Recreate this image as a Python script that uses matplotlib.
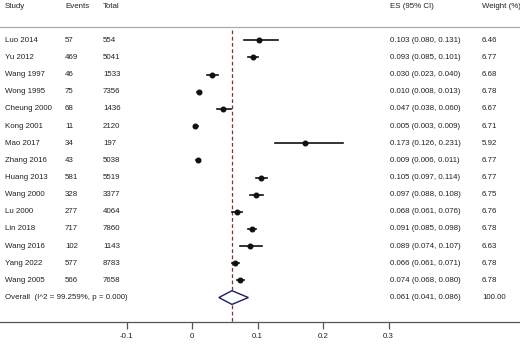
import matplotlib
matplotlib.use("Agg")
import matplotlib.pyplot as plt
import matplotlib.transforms as mtransforms

plt.rcParams['font.family'] = ['Liberation Sans', 'DejaVu Sans']

studies = ["Luo 2014", "Yu 2012", "Wang 1997", "Wong 1995", "Cheung 2000",
           "Kong 2001", "Mao 2017", "Zhang 2016", "Huang 2013", "Wang 2000",
           "Lu 2000", "Lin 2018", "Wang 2016", "Yang 2022", "Wang 2005"]
events = [57, 469, 46, 75, 68, 11, 34, 43, 581, 328, 277, 717, 102, 577, 566]
totals = [554, 5041, 1533, 7356, 1436, 2120, 197, 5038, 5519, 3377,
          4064, 7860, 1143, 8783, 7658]
es = [0.103, 0.093, 0.030, 0.010, 0.047, 0.005, 0.173, 0.009, 0.105, 0.097,
      0.068, 0.091, 0.089, 0.066, 0.074]
lo = [0.080, 0.085, 0.023, 0.008, 0.038, 0.003, 0.126, 0.006, 0.097, 0.088,
      0.061, 0.085, 0.074, 0.061, 0.068]
hi = [0.131, 0.101, 0.040, 0.013, 0.060, 0.009, 0.231, 0.011, 0.114, 0.108,
      0.076, 0.098, 0.107, 0.071, 0.080]
weights = [6.46, 6.77, 6.68, 6.78, 6.67, 6.71, 5.92, 6.77, 6.77, 6.75,
           6.76, 6.78, 6.63, 6.78, 6.78]
overall_es, overall_lo, overall_hi = 0.061, 0.041, 0.086
overall_label = "Overall  (I^2 = 99.259%, p = 0.000)"
xticks = [-0.1, 0, 0.1, 0.2, 0.3]
xticklabels = ["-0.1", "0", "0.1", "0.2", "0.3"]

W, H = 520, 347
fig = plt.figure(figsize=(W / 100, H / 100), dpi=100)
ax_bottom = 322
ax = fig.add_axes([0, (H - ax_bottom) / H, 1, ax_bottom / H])

# pixel mapping: x_px = 192 + 655*ES ; row i at y_px = 40.3 + 17.15*i
x0, sx = 192.0, 655.0
ax.set_xlim(-x0 / sx, (W - x0) / sx)
r0, sr = 40.3, 17.15
ax.set_ylim((ax_bottom - r0) / sr, -r0 / sr)

for s in ['top', 'left', 'right']:
    ax.spines[s].set_visible(False)
ax.spines['bottom'].set_color('#555555')
ax.spines['bottom'].set_linewidth(0.9)
ax.set_yticks([])
ax.set_xticks(xticks)
ax.set_xticklabels(xticklabels)
ax.tick_params(axis='x', direction='out', length=5, width=0.9, color='#555555',
               labelsize=5.7, labelcolor='#222222', pad=3)

tc = '#222222'
fs = 5.7
trans = mtransforms.blended_transform_factory(fig.transFigure, ax.transData)

def px(x):
    return x / W

header_row = (6 - r0) / sr
ax.text(px(5), header_row, "Study", transform=trans, fontsize=fs, color=tc, va='center')
ax.text(px(65), header_row, "Events", transform=trans, fontsize=fs, color=tc, va='center')
ax.text(px(103), header_row, "Total", transform=trans, fontsize=fs, color=tc, va='center')
ax.text(px(390), header_row, "ES (95% CI)", transform=trans, fontsize=fs, color=tc, va='center')
ax.text(px(482), header_row, "Weight (%)", transform=trans, fontsize=fs, color=tc, va='center')
ax.axhline((27 - r0) / sr, color='#aaaaaa', lw=0.9)

for i in range(len(studies)):
    ax.text(px(5), i, studies[i], transform=trans, fontsize=fs, color=tc, va='center')
    ax.text(px(65), i, str(events[i]), transform=trans, fontsize=fs, color=tc, va='center')
    ax.text(px(103), i, str(totals[i]), transform=trans, fontsize=fs, color=tc, va='center')
    ax.text(px(390), i, "%.3f (%.3f, %.3f)" % (es[i], lo[i], hi[i]),
            transform=trans, fontsize=fs, color=tc, va='center')
    ax.text(px(482), i, "%.2f" % weights[i], transform=trans, fontsize=fs, color=tc, va='center')
    ax.plot([lo[i], hi[i]], [i, i], color='#111111', lw=1.2)
    ax.plot(es[i], i, 'o', color='#111111', ms=3.3)

n = len(studies)
ax.text(px(5), n, overall_label, transform=trans, fontsize=fs, color=tc, va='center')
ax.text(px(390), n, "%.3f (%.3f, %.3f)" % (overall_es, overall_lo, overall_hi),
        transform=trans, fontsize=fs, color=tc, va='center')
ax.text(px(482), n, "100.00", transform=trans, fontsize=fs, color=tc, va='center')
dh = 0.4
ax.fill([overall_lo, overall_es, overall_hi, overall_es, overall_lo],
        [n, n - dh, n, n + dh, n], facecolor='white', edgecolor='#1c1c6e', lw=1.0)

ax.plot([overall_es, overall_es], [(30 - r0) / sr, (ax_bottom - r0) / sr],
        color='#8b2e2e', lw=0.9, ls=(0, (3, 2)), zorder=0)

fig.savefig("out.png", dpi=100)
